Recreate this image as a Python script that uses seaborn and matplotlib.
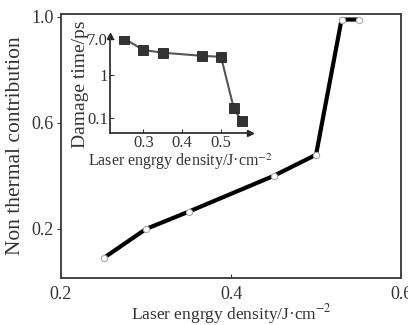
import matplotlib
matplotlib.use("Agg")
import matplotlib.pyplot as plt
import seaborn as sns
import pandas as pd
import numpy as np

# Main series
main_x = [0.25, 0.30, 0.35, 0.45, 0.50, 0.53, 0.55]
main_y = [0.09, 0.20, 0.265, 0.40, 0.48, 0.99, 0.99]
main_xticks = [0.2, 0.4, 0.6]
main_yticks = [0.2, 0.6, 1.0]

# Inset series
inset_x = [0.25, 0.30, 0.35, 0.45, 0.50, 0.533, 0.553]
inset_y = [7.0, 3.8, 3.3, 2.8, 2.65, 0.17, 0.087]
inset_xticks = [0.3, 0.4, 0.5]
inset_yticks = [0.1, 1, 7.0]
inset_yticklabels = ["0.1", "1", "7.0"]

sns.set_style("ticks")
plt.rcParams['font.family'] = ['Liberation Serif', 'DejaVu Serif']
plt.rcParams['mathtext.fontset'] = 'stix'

fig = plt.figure(figsize=(4.08, 3.25), dpi=100)
ax = fig.add_axes([0.1495, 0.1446, 0.8335, 0.8124])

df_main = pd.DataFrame({"x": main_x, "y": main_y})
sns.lineplot(data=df_main, x="x", y="y", ax=ax, color="black", linewidth=3.0,
             marker="o", markersize=4.5, markerfacecolor="white",
             markeredgecolor="#aaaaaa", markeredgewidth=0.8)
ax.set_xlim(0.2, 0.6)
ax.set_ylim(0.015, 1.011)
ax.set_xticks(main_xticks)
ax.set_xticklabels([f"{t:.1f}" for t in main_xticks])
ax.set_yticks(main_yticks)
ax.set_yticklabels([f"{t:.1f}" for t in main_yticks])
ax.tick_params(axis="x", direction="in", length=3, labelsize=13, pad=6, colors="#333333")
ax.tick_params(axis="y", direction="out", length=3, labelsize=13, pad=2, colors="#333333")
ax.set_xlabel("Laser engrgy density/J·cm$^{-2}$", fontsize=12.5, color="#333333", labelpad=-1)
ax.set_ylabel("Non thermal contribution", fontsize=15.5, color="#333333", labelpad=5)
for s in ax.spines.values():
    s.set_color("#444444")
    s.set_linewidth(1.4)

# Inset
ins = fig.add_axes([0.27, 0.591, 0.343, 0.298])
ins.patch.set_alpha(0)
df_ins = pd.DataFrame({"x": inset_x, "y": inset_y})
sns.lineplot(data=df_ins, x="x", y="y", ax=ins, color="#555555", linewidth=1.5,
             marker="s", markersize=6.5, markerfacecolor="#333333",
             markeredgecolor="#222222", markeredgewidth=0.6)
ins.set_yscale("log")
ins.set_xlim(0.214, 0.575)
ins.set_ylim(0.046, 8.0)
ins.set_xticks(inset_xticks)
ins.set_xticklabels([f"{t:.1f}" for t in inset_xticks])
ins.set_yticks(inset_yticks)
ins.set_yticklabels(inset_yticklabels)
ins.yaxis.set_minor_locator(matplotlib.ticker.NullLocator())
ins.tick_params(axis="both", direction="in", length=3, labelsize=12, pad=1.5, colors="#333333")
ins.spines["top"].set_visible(False)
ins.spines["right"].set_visible(False)
for s in ["left", "bottom"]:
    ins.spines[s].set_color("#333333")
    ins.spines[s].set_linewidth(1.3)
ins.plot(1, 0, ">", transform=ins.transAxes, color="#222222", markersize=4, clip_on=False)
ins.plot(0, 1, "^", transform=ins.transAxes, color="#222222", markersize=4, clip_on=False)
ins.set_xlabel("Laser engrgy density/J·cm$^{-2}$", fontsize=11.5, color="#333333", labelpad=0)
ins.set_ylabel("Damage time/ps", fontsize=14, color="#333333", labelpad=-1)

fig.savefig("out.png", dpi=100)
